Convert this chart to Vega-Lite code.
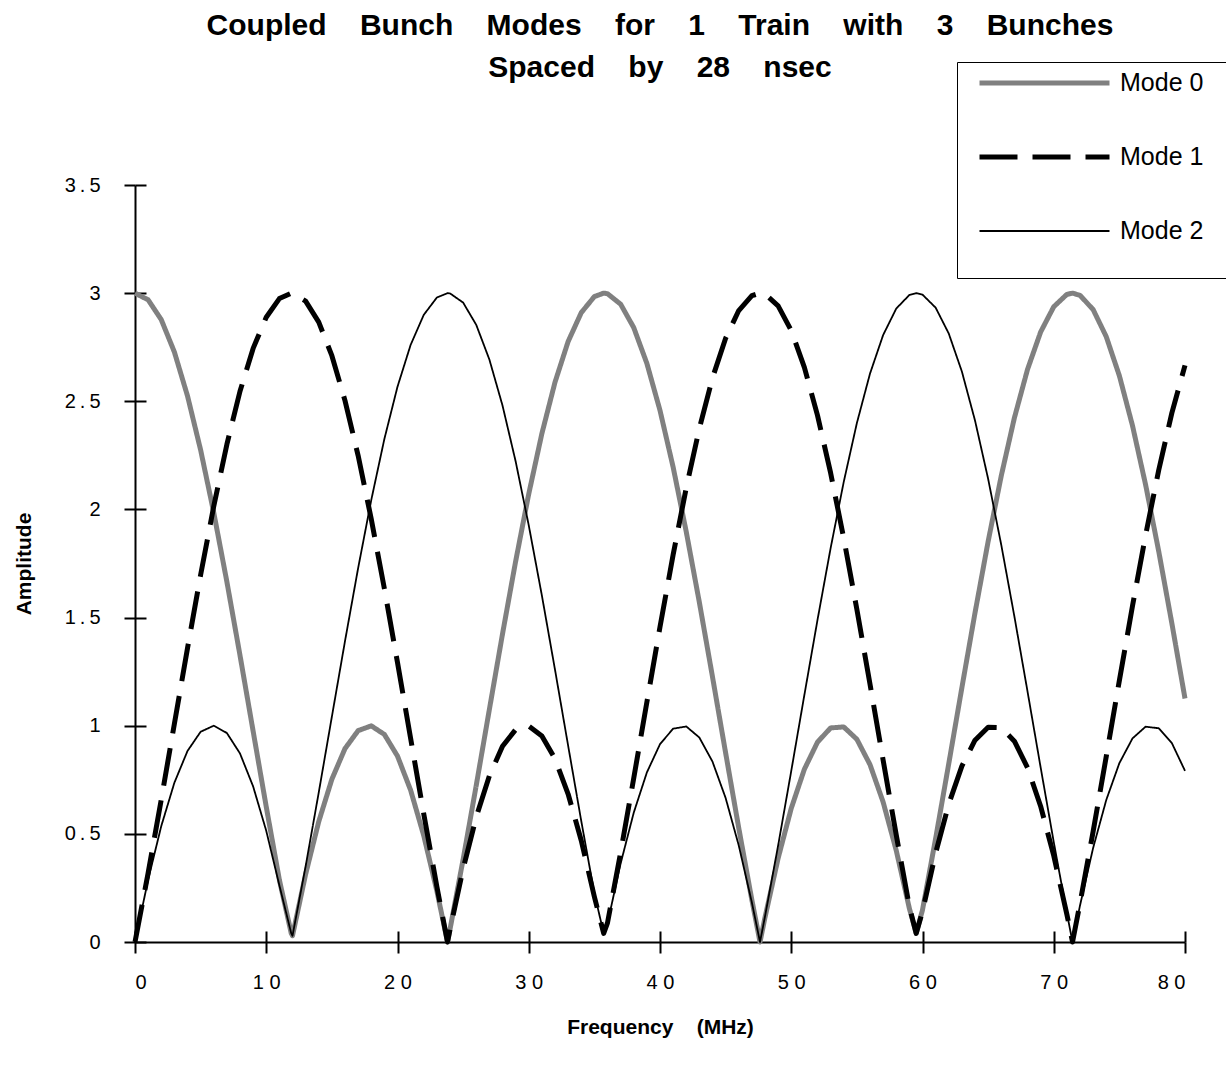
{
 "$schema": "https://vega.github.io/schema/vega-lite/v6.json",
 "width": 1050,
 "height": 757,
 "autosize": {"type": "none"},
 "padding": {"left": 135, "top": 185, "right": 41, "bottom": 128},
 "background": "white",
 "title": {
  "text": ["Coupled \u00a0\u00a0\u00a0Bunch \u00a0\u00a0\u00a0Modes \u00a0\u00a0\u00a0for \u00a0\u00a0\u00a01 \u00a0\u00a0\u00a0Train \u00a0\u00a0\u00a0with \u00a0\u00a0\u00a03 \u00a0\u00a0\u00a0Bunches", "Spaced \u00a0\u00a0\u00a0by \u00a0\u00a0\u00a028 \u00a0\u00a0\u00a0nsec"],
  "font": "Liberation Sans", "fontSize": 30, "fontWeight": "bold", "color": "black",
  "lineHeight": 42, "anchor": "middle", "frame": "group", "baseline": "alphabetic", "offset": -45
 },
 "data": {"values": [
  {"f":0,"Mode 0":3,"Mode 1":0,"Mode 2":0},
  {"f":1,"Mode 0":2.9691,"Mode 1":0.3186,"Mode 2":0.2877},
  {"f":2,"Mode 0":2.8775,"Mode 1":0.6582,"Mode 2":0.5357},
  {"f":3,"Mode 0":2.7279,"Mode 1":1.0084,"Mode 2":0.7363},
  {"f":4,"Mode 0":2.5249,"Mode 1":1.3583,"Mode 2":0.8832},
  {"f":5,"Mode 0":2.2749,"Mode 1":1.6972,"Mode 2":0.9721},
  {"f":6,"Mode 0":1.9855,"Mode 1":2.0146,"Mode 2":1.0001},
  {"f":7,"Mode 0":1.6656,"Mode 1":2.3005,"Mode 2":0.9662},
  {"f":8,"Mode 0":1.3253,"Mode 1":2.5464,"Mode 2":0.8717},
  {"f":9,"Mode 0":0.9749,"Mode 1":2.7445,"Mode 2":0.7194},
  {"f":10,"Mode 0":0.6252,"Mode 1":2.8888,"Mode 2":0.5141},
  {"f":11,"Mode 0":0.2872,"Mode 1":2.9748,"Mode 2":0.2619},
  {"f":11.905,"Mode 0":0.04,"Mode 1":3,"Mode 2":0.04},
  {"f":12,"Mode 0":0.0289,"Mode 1":2.9998,"Mode 2":0.0291},
  {"f":13,"Mode 0":0.3132,"Mode 1":2.963,"Mode 2":0.3502},
  {"f":14,"Mode 0":0.5569,"Mode 1":2.8657,"Mode 2":0.6913},
  {"f":15,"Mode 0":0.7526,"Mode 1":2.7108,"Mode 2":1.0419},
  {"f":16,"Mode 0":0.8942,"Mode 1":2.503,"Mode 2":1.3912},
  {"f":17,"Mode 0":0.9773,"Mode 1":2.2489,"Mode 2":1.7285},
  {"f":18,"Mode 0":0.9994,"Mode 1":1.9562,"Mode 2":2.0432},
  {"f":19,"Mode 0":0.9597,"Mode 1":1.6339,"Mode 2":2.3258},
  {"f":20,"Mode 0":0.8595,"Mode 1":1.2921,"Mode 2":2.5674},
  {"f":21,"Mode 0":0.702,"Mode 1":0.9413,"Mode 2":2.7607},
  {"f":22,"Mode 0":0.4919,"Mode 1":0.5923,"Mode 2":2.8996},
  {"f":23,"Mode 0":0.2357,"Mode 1":0.2559,"Mode 2":2.9798},
  {"f":23.81,"Mode 0":0,"Mode 1":0,"Mode 2":3},
  {"f":24,"Mode 0":0.0586,"Mode 1":0.0575,"Mode 2":2.9989},
  {"f":25,"Mode 0":0.382,"Mode 1":0.3383,"Mode 2":2.9564},
  {"f":26,"Mode 0":0.7244,"Mode 1":0.5778,"Mode 2":2.8534},
  {"f":27,"Mode 0":1.0754,"Mode 1":0.7686,"Mode 2":2.6932},
  {"f":28,"Mode 0":1.424,"Mode 1":0.9048,"Mode 2":2.4807},
  {"f":29,"Mode 0":1.7596,"Mode 1":0.9821,"Mode 2":2.2226},
  {"f":30,"Mode 0":2.0717,"Mode 1":0.9983,"Mode 2":1.9266},
  {"f":31,"Mode 0":2.3507,"Mode 1":0.9528,"Mode 2":1.6021},
  {"f":32,"Mode 0":2.588,"Mode 1":0.847,"Mode 2":1.259},
  {"f":33,"Mode 0":2.7763,"Mode 1":0.6842,"Mode 2":0.9079},
  {"f":34,"Mode 0":2.9097,"Mode 1":0.4694,"Mode 2":0.5596},
  {"f":35,"Mode 0":2.9842,"Mode 1":0.2092,"Mode 2":0.225},
  {"f":35.71,"Mode 0":3,"Mode 1":0.04,"Mode 2":0.04},
  {"f":36,"Mode 0":2.9975,"Mode 1":0.0883,"Mode 2":0.0858},
  {"f":37,"Mode 0":2.9491,"Mode 1":0.4139,"Mode 2":0.363},
  {"f":38,"Mode 0":2.8405,"Mode 1":0.7577,"Mode 2":0.5981},
  {"f":39,"Mode 0":2.6751,"Mode 1":1.1089,"Mode 2":0.784},
  {"f":40,"Mode 0":2.4579,"Mode 1":1.4567,"Mode 2":0.9147},
  {"f":41,"Mode 0":2.1958,"Mode 1":1.7905,"Mode 2":0.9863},
  {"f":42,"Mode 0":1.8968,"Mode 1":2.0998,"Mode 2":0.9966},
  {"f":43,"Mode 0":1.57,"Mode 1":2.3752,"Mode 2":0.9453},
  {"f":44,"Mode 0":1.2257,"Mode 1":2.6082,"Mode 2":0.8339},
  {"f":45,"Mode 0":0.8744,"Mode 1":2.7915,"Mode 2":0.6659},
  {"f":46,"Mode 0":0.527,"Mode 1":2.9195,"Mode 2":0.4465},
  {"f":47,"Mode 0":0.1942,"Mode 1":2.9882,"Mode 2":0.1824},
  {"f":47.62,"Mode 0":0,"Mode 1":3,"Mode 2":0},
  {"f":48,"Mode 0":0.1137,"Mode 1":2.9956,"Mode 2":0.1182},
  {"f":49,"Mode 0":0.3873,"Mode 1":2.9413,"Mode 2":0.446},
  {"f":50,"Mode 0":0.618,"Mode 1":2.8271,"Mode 2":0.7909},
  {"f":51,"Mode 0":0.7988,"Mode 1":2.6565,"Mode 2":1.1423},
  {"f":52,"Mode 0":0.9241,"Mode 1":2.4348,"Mode 2":1.4892},
  {"f":53,"Mode 0":0.9899,"Mode 1":2.1688,"Mode 2":1.8211},
  {"f":54,"Mode 0":0.9943,"Mode 1":1.8667,"Mode 2":2.1276},
  {"f":55,"Mode 0":0.9372,"Mode 1":1.5378,"Mode 2":2.3994},
  {"f":56,"Mode 0":0.8202,"Mode 1":1.1924,"Mode 2":2.6279},
  {"f":57,"Mode 0":0.6471,"Mode 1":0.841,"Mode 2":2.8061},
  {"f":58,"Mode 0":0.4231,"Mode 1":0.4945,"Mode 2":2.9286},
  {"f":59,"Mode 0":0.1552,"Mode 1":0.1636,"Mode 2":2.9916},
  {"f":59.52,"Mode 0":0.04,"Mode 1":0.04,"Mode 2":3},
  {"f":60,"Mode 0":0.1484,"Mode 1":0.1415,"Mode 2":2.993},
  {"f":61,"Mode 0":0.4783,"Mode 1":0.4113,"Mode 2":2.933},
  {"f":62,"Mode 0":0.8243,"Mode 1":0.6376,"Mode 2":2.8133},
  {"f":63,"Mode 0":1.1757,"Mode 1":0.8133,"Mode 2":2.6376},
  {"f":64,"Mode 0":1.5217,"Mode 1":0.933,"Mode 2":2.4113},
  {"f":65,"Mode 0":1.8516,"Mode 1":0.993,"Mode 2":2.1415},
  {"f":66,"Mode 0":2.1552,"Mode 1":0.9916,"Mode 2":1.8364},
  {"f":67,"Mode 0":2.4231,"Mode 1":0.9286,"Mode 2":1.5055},
  {"f":68,"Mode 0":2.6471,"Mode 1":0.8061,"Mode 2":1.159},
  {"f":69,"Mode 0":2.8202,"Mode 1":0.6279,"Mode 2":0.8076},
  {"f":70,"Mode 0":2.9372,"Mode 1":0.3994,"Mode 2":0.4622},
  {"f":71,"Mode 0":2.9943,"Mode 1":0.1276,"Mode 2":0.1333},
  {"f":71.43,"Mode 0":3,"Mode 1":0,"Mode 2":0},
  {"f":72,"Mode 0":2.9899,"Mode 1":0.1789,"Mode 2":0.1688},
  {"f":73,"Mode 0":2.9241,"Mode 1":0.5108,"Mode 2":0.4348},
  {"f":74,"Mode 0":2.7988,"Mode 1":0.8577,"Mode 2":0.6565},
  {"f":75,"Mode 0":2.618,"Mode 1":1.2091,"Mode 2":0.8271},
  {"f":76,"Mode 0":2.3873,"Mode 1":1.554,"Mode 2":0.9413},
  {"f":77,"Mode 0":2.1137,"Mode 1":1.8818,"Mode 2":0.9956},
  {"f":78,"Mode 0":1.8058,"Mode 1":2.1824,"Mode 2":0.9882},
  {"f":79,"Mode 0":1.473,"Mode 1":2.4465,"Mode 2":0.9195},
  {"f":80,"Mode 0":1.1256,"Mode 1":2.6659,"Mode 2":0.7915}
 ]},
 "transform": [{"fold": ["Mode 0", "Mode 1", "Mode 2"], "as": ["mode", "amp"]}],
 "mark": {"type": "line", "strokeJoin": "round"},
 "encoding": {
  "x": {
   "field": "f", "type": "quantitative",
   "scale": {"domain": [0, 80], "nice": false, "zero": false},
   "axis": {
    "values": [0, 10, 20, 30, 40, 50, 60, 70, 80],
    "title": "Frequency \u00a0\u00a0\u00a0(MHz)",
    "labelExpr": "replace(datum.label, regexp('(.)(?=.)', 'g'), '$1\u00a0')",
    "labelPadding": 19, "titlePadding": 24,
    "gridDash": [0, 746, 11]
   }
  },
  "y": {
   "field": "amp", "type": "quantitative",
   "scale": {"domain": [0, 3.5], "nice": false},
   "axis": {
    "values": [0, 0.5, 1, 1.5, 2, 2.5, 3, 3.5],
    "format": ".1~f",
    "title": "Amplitude",
    "labelExpr": "replace(datum.label, regexp('(.)(?=.)', 'g'), '$1\u2009')",
    "labelPadding": 24, "titlePadding": 30,
    "gridDash": [11, 3000]
   }
  },
  "color": {
   "field": "mode", "type": "nominal",
   "scale": {"domain": ["Mode 0", "Mode 1", "Mode 2"], "range": ["#808080", "#000000", "#000000"]},
   "legend": {
    "orient": "none", "legendX": 822, "legendY": -123,
    "title": "\u00a0",
    "titleOrient": "bottom", "titleFontSize": 20, "titlePadding": 6,
    "labelExpr": "datum.label + '\u00a0\u00a0\u00a0\u200b'",
    "labelLimit": 400,
    "strokeColor": "black", "fillColor": "white", "padding": 6,
    "symbolType": "stroke", "symbolSize": 16900, "symbolOffset": 14,
    "clipHeight": 30, "rowPadding": 44,
    "labelFont": "Liberation Sans", "labelFontSize": 25, "labelColor": "black", "labelOffset": 8
   }
  },
  "strokeDash": {
   "field": "mode", "type": "nominal",
   "scale": {"domain": ["Mode 0", "Mode 1", "Mode 2"], "range": [[1, 0], [38, 15], [1, 0]]}
  },
  "strokeWidth": {
   "field": "mode", "type": "nominal",
   "scale": {"type": "ordinal", "domain": ["Mode 0", "Mode 1", "Mode 2"], "range": [5, 5, 1.8]}
  }
 },
 "config": {
  "view": {"stroke": null},
  "font": "Liberation Sans",
  "axis": {
   "domainColor": "black", "domainWidth": 2,
   "tickColor": "black", "tickWidth": 2, "tickSize": 11,
   "labelColor": "black", "labelFont": "Liberation Sans", "labelFontSize": 20,
   "titleColor": "black", "titleFont": "Liberation Sans", "titleFontSize": 21, "titleFontWeight": "bold",
   "grid": true, "gridColor": "black", "gridWidth": 2, "gridOpacity": 1
  }
 }
}
